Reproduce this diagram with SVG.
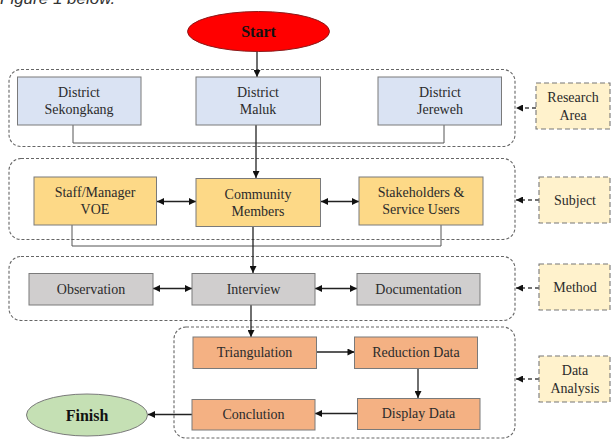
<svg xmlns="http://www.w3.org/2000/svg" width="611" height="439" viewBox="0 0 611 439">
<style>
.bg{fill:#ffffff}
.t{font-family:"Liberation Serif","Times New Roman",serif;font-size:14px;fill:#2b2b2b;text-anchor:middle}
.tb{font-family:"Liberation Serif","Times New Roman",serif;font-size:16px;font-weight:bold;fill:#111;text-anchor:middle}
.cap{font-family:"Liberation Sans",Arial,sans-serif;font-size:17px;font-style:italic;fill:#333}
.grp{fill:none;stroke:#666;stroke-width:1.1;stroke-dasharray:3 2}
.lbl{fill:#fff2cc;stroke:#777;stroke-width:1.1;stroke-dasharray:5 3}
.box{stroke:#7a7a7a;stroke-width:1}
.blue{fill:#dae3f3}
.yel{fill:#fdd987}
.gray{fill:#d0cece}
.org{fill:#f4b183}
.ln{fill:none;stroke:#222;stroke-width:1.3}
.thin{fill:none;stroke:#555;stroke-width:1}
.dl{fill:none;stroke:#444;stroke-width:1.3;stroke-dasharray:4 3}
</style>
<defs>
<marker id="ah" viewBox="0 0 10 10" refX="10" refY="5" markerWidth="8" markerHeight="7" markerUnits="userSpaceOnUse" orient="auto-start-reverse">
<path d="M0,0 L10,5 L0,10 z" fill="#111"/>
</marker>
</defs>
<rect class="bg" x="0" y="0" width="611" height="439"/>
<text class="cap" x="0" y="4">Figure 1 below.</text>

<g id="containers">
<rect class="grp" x="9" y="69.5" width="506" height="77" rx="12"/>
<rect class="grp" x="9" y="158.5" width="506" height="81" rx="12"/>
<rect class="grp" x="9" y="256.5" width="506" height="64" rx="12"/>
<rect class="grp" x="174" y="327" width="341" height="111" rx="12"/>
</g>

<g id="connectors">
<line class="ln" x1="257" y1="52" x2="257" y2="77" marker-end="url(#ah)"/>
<polyline class="thin" points="73,125 73,143 444,143 444,125"/>
<line class="ln" x1="256" y1="125" x2="256" y2="178" marker-end="url(#ah)"/>
<line class="ln" x1="157" y1="201.5" x2="196" y2="201.5" marker-start="url(#ah)" marker-end="url(#ah)"/>
<line class="ln" x1="321" y1="201.5" x2="359" y2="201.5" marker-start="url(#ah)" marker-end="url(#ah)"/>
<polyline class="thin" points="72,225 72,246 441,246 441,225"/>
<line class="ln" x1="253" y1="227" x2="253" y2="273" marker-end="url(#ah)"/>
<line class="ln" x1="153" y1="288.5" x2="192" y2="288.5" marker-start="url(#ah)" marker-end="url(#ah)"/>
<line class="ln" x1="315" y1="288.5" x2="357" y2="288.5" marker-start="url(#ah)" marker-end="url(#ah)"/>
<line class="ln" x1="251" y1="305" x2="251" y2="337" marker-end="url(#ah)"/>
<line class="ln" x1="316.5" y1="352" x2="354.5" y2="352" marker-end="url(#ah)"/>
<line class="ln" x1="418" y1="368.5" x2="418" y2="398" marker-end="url(#ah)"/>
<line class="ln" x1="357" y1="413.5" x2="315" y2="413.5" marker-end="url(#ah)"/>
<line class="ln" x1="192" y1="414.5" x2="148" y2="414.5" marker-end="url(#ah)"/>
<line class="dl" x1="536" y1="108" x2="516" y2="108" marker-end="url(#ah)"/>
<line class="dl" x1="539" y1="200" x2="516" y2="200" marker-end="url(#ah)"/>
<line class="dl" x1="539" y1="288" x2="516" y2="288" marker-end="url(#ah)"/>
<line class="dl" x1="539" y1="379" x2="516" y2="379" marker-end="url(#ah)"/>
</g>

<g id="start">
<ellipse cx="258.5" cy="31.5" rx="71" ry="20" fill="#ff0000" stroke="#8a1a1a" stroke-width="1"/>
<text class="tb" x="258.5" y="37">Start</text>
</g>

<g id="sekongkang">
<rect class="box blue" x="17.5" y="77" width="123.5" height="48"/>
<text class="t" x="79" y="97">District</text>
<text class="t" x="79" y="114">Sekongkang</text>
</g>
<g id="maluk">
<rect class="box blue" x="196" y="77" width="124.5" height="48"/>
<text class="t" x="258" y="97">District</text>
<text class="t" x="258" y="114">Maluk</text>
</g>
<g id="jereweh">
<rect class="box blue" x="378" y="77" width="123.5" height="48"/>
<text class="t" x="440" y="97">District</text>
<text class="t" x="440" y="114">Jereweh</text>
</g>

<g id="staff">
<rect class="box yel" x="34" y="177" width="122.5" height="48"/>
<text class="t" x="95" y="197">Staff/Manager</text>
<text class="t" x="95" y="214">VOE</text>
</g>
<g id="community">
<rect class="box yel" x="196" y="178.5" width="124.5" height="48"/>
<text class="t" x="258" y="198.5">Community</text>
<text class="t" x="258" y="215.5">Members</text>
</g>
<g id="stakeholders">
<rect class="box yel" x="359" y="177" width="124" height="48"/>
<text class="t" x="421" y="197">Stakeholders &amp;</text>
<text class="t" x="421" y="214">Service Users</text>
</g>

<g id="observation">
<rect class="box gray" x="29" y="273.5" width="124" height="31.5"/>
<text class="t" x="91" y="293.5">Observation</text>
</g>
<g id="interview">
<rect class="box gray" x="192" y="273.5" width="123" height="31.5"/>
<text class="t" x="253.5" y="293.5">Interview</text>
</g>
<g id="documentation">
<rect class="box gray" x="357" y="273.5" width="123" height="31.5"/>
<text class="t" x="418.5" y="293.5">Documentation</text>
</g>

<g id="triangulation">
<rect class="box org" x="193" y="337" width="123.5" height="31.5"/>
<text class="t" x="254.5" y="357">Triangulation</text>
</g>
<g id="reduction">
<rect class="box org" x="354.5" y="337" width="123" height="31.5"/>
<text class="t" x="416" y="357">Reduction Data</text>
</g>
<g id="display">
<rect class="box org" x="357.5" y="398.5" width="122.5" height="31"/>
<text class="t" x="418.5" y="418">Display Data</text>
</g>
<g id="conclution">
<rect class="box org" x="192" y="399.5" width="123" height="30.5"/>
<text class="t" x="253.5" y="419">Conclution</text>
</g>

<g id="finish">
<ellipse cx="87" cy="415" rx="60.5" ry="21" fill="#c5e0b4" stroke="#7a7a7a" stroke-width="1"/>
<text class="tb" x="87" y="420.5">Finish</text>
</g>

<g id="label-research">
<rect class="lbl" x="536" y="83" width="74" height="46"/>
<text class="t" x="573" y="102">Research</text>
<text class="t" x="573" y="120">Area</text>
</g>
<g id="label-subject">
<rect class="lbl" x="539" y="177" width="71" height="46"/>
<text class="t" x="575" y="205">Subject</text>
</g>
<g id="label-method">
<rect class="lbl" x="539" y="264" width="71" height="46"/>
<text class="t" x="575" y="292">Method</text>
</g>
<g id="label-data">
<rect class="lbl" x="539" y="356" width="71" height="46"/>
<text class="t" x="575" y="375">Data</text>
<text class="t" x="575" y="393">Analysis</text>
</g>
</svg>
